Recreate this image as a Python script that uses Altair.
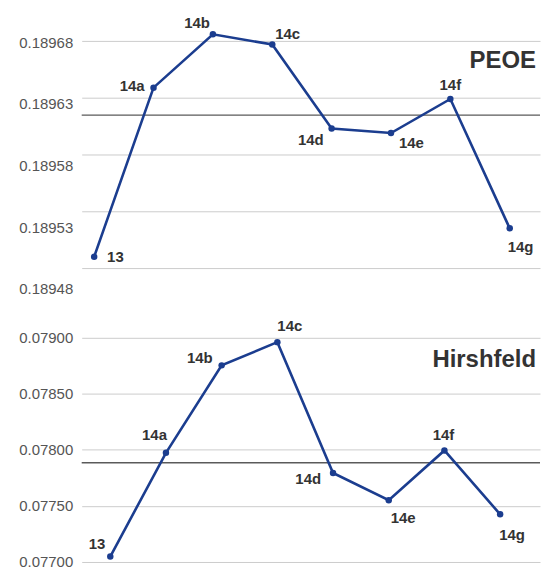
import altair as alt
import pandas as pd

# ---- data ----
categories = ["13", "14a", "14b", "14c", "14d", "14e", "14f", "14g"]
peoe = [0.189490, 0.189639, 0.189686, 0.189677, 0.189603, 0.189599, 0.189629, 0.189515]
hirshfeld = [0.077048, 0.077973, 0.078752, 0.078959, 0.077793, 0.077550, 0.077994, 0.077425]
peoe_ref = [0.1896147]
hirshfeld_ref = [0.0778844]
peoe_ticks = [0.18948, 0.18953, 0.18958, 0.18963, 0.18968]
hirshfeld_ticks = [0.07700, 0.07750, 0.07800, 0.07850, 0.07900]

# ---- label placement (style only): align, dx, dy ----
peoe_lbl = [("left", 13, 0), ("right", -9, -2), ("right", -3, -11), ("left", 3, -11),
            ("right", -8, 12), ("left", 8, 10), ("center", 0, -14), ("left", -2, 19)]
hirsh_lbl = [("right", -5, -13), ("right", 1, -18), ("right", -9, -7), ("left", 0, -16),
             ("right", -12, 6), ("left", 2, 18), ("center", -1, -15), ("left", -1, 21)]

NAVY = "#1b3d8f"
FONT = "Liberation Sans"
W = 460


def panel(values, ticks, ref, title, ydom, xdom, lbl, height, title_y, label_offset=None):
    df = pd.DataFrame({"cat": categories, "idx": list(range(len(categories))), "val": values})
    axis_kw = dict(values=ticks, format=".5f", grid=True, domain=False, ticks=False,
                   labelPadding=9, labelFontSize=15, labelColor="#555", labelFont=FONT,
                   gridColor="#cccccc", gridWidth=1, title=None)
    if label_offset is not None:
        axis_kw["labelOffset"] = label_offset
    x = alt.X("idx:Q", scale=alt.Scale(domain=xdom, nice=False, zero=False), axis=None)
    y = alt.Y("val:Q", scale=alt.Scale(domain=ydom, nice=False, zero=False),
              axis=alt.Axis(**axis_kw))
    base = alt.Chart(df)
    rule = alt.Chart(pd.DataFrame({"val": ref})).mark_rule(
        color="#5a5a5a", strokeWidth=1.3).encode(y="val:Q")
    line = base.mark_line(color=NAVY, strokeWidth=2.6).encode(x=x, y=y)
    pts = base.mark_circle(color=NAVY, size=42, opacity=1).encode(x=x, y=y)
    layers = [rule, line, pts]
    for c, (al, dx, dy) in zip(categories, lbl):
        layers.append(
            base.transform_filter(alt.datum.cat == c).mark_text(
                align=al, baseline="middle", dx=dx, dy=dy, fontSize=15,
                fontWeight="bold", color="#333333", font=FONT
            ).encode(x=x, y=y, text="cat:N")
        )
    ttl = alt.Chart(pd.DataFrame({"t": [title]})).mark_text(
        align="right", baseline="middle", fontSize=24, fontWeight="bold",
        color="#333333", font=FONT
    ).encode(x=alt.value(537 - 81), y=alt.value(title_y), text="t:N")
    layers.append(ttl)
    return alt.layer(*layers).properties(width=W, height=height)


top = panel(peoe, peoe_ticks, peoe_ref, "PEOE", [0.18948, 0.1897083], [-0.21, 7.51],
            peoe_lbl, 260, 52,
            label_offset=alt.ExprRef(expr="round((0.18968 - datum.value) / 0.00005) * 5 + 1"))
bottom = panel(hirshfeld, hirshfeld_ticks, hirshfeld_ref, "Hirshfeld", [0.077, 0.079335],
               [-0.513, 7.716], hirsh_lbl, 263, 60)

chart = alt.vconcat(top, bottom, spacing=32, bounds="flush").properties(
    padding={"left": 18, "top": 8, "right": 0, "bottom": 0},
    background="white",
).configure_view(strokeWidth=0, stroke="transparent")

chart.save("out.html", embed_options={"renderer": "svg", "actions": False})
